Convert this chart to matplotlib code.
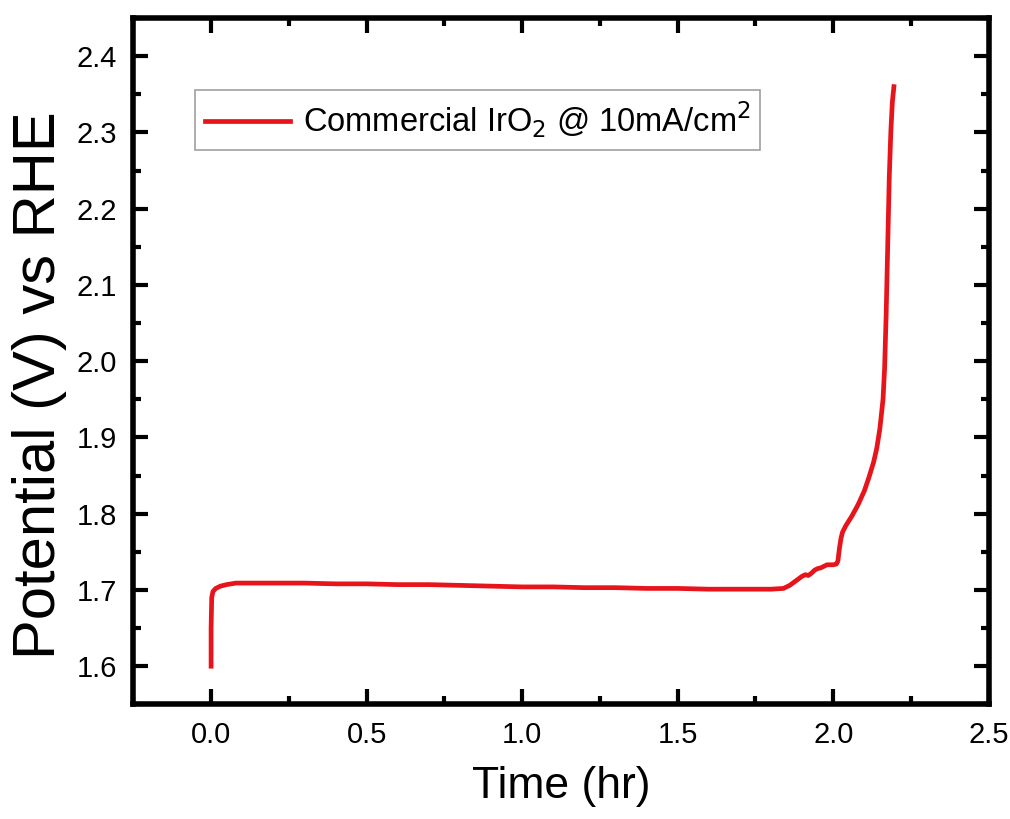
import matplotlib
matplotlib.use('agg')
import matplotlib.pyplot as plt
from matplotlib.ticker import MultipleLocator

plt.rcParams['font.family'] = ['Liberation Sans', 'DejaVu Sans']

# potential vs time
time_hr = [0.0, 0.0, 0.002, 0.006, 0.015, 0.03, 0.05, 0.08, 0.12, 0.2, 0.3,
           0.4, 0.5, 0.6, 0.7, 0.8, 0.9, 1.0, 1.1, 1.2, 1.3, 1.4, 1.5, 1.6,
           1.7, 1.8, 1.84, 1.86, 1.88, 1.9, 1.91, 1.92, 1.93, 1.94, 1.95,
           1.96, 1.97, 1.98, 1.99, 2.0, 2.01, 2.015, 2.02, 2.025, 2.03,
           2.04, 2.06, 2.08, 2.1, 2.115, 2.13, 2.14, 2.15, 2.16, 2.165,
           2.17, 2.175, 2.18, 2.185, 2.19, 2.195]
potential = [1.600, 1.650, 1.690, 1.698, 1.702, 1.705, 1.707, 1.709, 1.709,
             1.709, 1.709, 1.708, 1.708, 1.707, 1.707, 1.706, 1.705, 1.704,
             1.704, 1.703, 1.703, 1.702, 1.702, 1.701, 1.701, 1.701, 1.702,
             1.706, 1.712, 1.718, 1.720, 1.719, 1.722, 1.726, 1.728, 1.729,
             1.731, 1.733, 1.733, 1.733, 1.734, 1.738, 1.755, 1.768, 1.776,
             1.784, 1.797, 1.812, 1.830, 1.848, 1.868, 1.886, 1.912, 1.950,
             1.990, 2.060, 2.150, 2.240, 2.300, 2.340, 2.360]

series_label = r'Commercial IrO$_2$ @ 10mA/cm$^2$'

fig = plt.figure(figsize=(10.10, 8.19), dpi=100)
ax = fig.add_axes([0.132, 0.140, 0.847, 0.838])

ax.plot(time_hr, potential, color='#e8141c', lw=3.4, label=series_label)

ax.set_xlim(-0.25, 2.5)
ax.set_ylim(1.55, 2.45)
ax.xaxis.set_major_locator(MultipleLocator(0.5))
ax.xaxis.set_minor_locator(MultipleLocator(0.25))
ax.yaxis.set_major_locator(MultipleLocator(0.1))
ax.yaxis.set_minor_locator(MultipleLocator(0.05))

ax.tick_params(which='both', direction='in', top=True, right=True,
               width=3, labelsize=21, colors='black')
ax.tick_params(which='major', length=11, pad=12)
ax.tick_params(which='minor', length=6)
for sp in ax.spines.values():
    sp.set_linewidth(4)

ax.set_xlabel('Time (hr)', fontsize=32, labelpad=12)
ax.set_ylabel('Potential (V) vs RHE', fontsize=43)
ax.yaxis.set_label_coords(-0.077, 0.465)

leg = ax.legend(loc='upper left', bbox_to_anchor=(0.072, 0.895), fontsize=23.5,
                frameon=True, fancybox=False, handlelength=2.6,
                handletextpad=0.4, borderpad=0.3, borderaxespad=0)
leg.get_frame().set_edgecolor('#888888')
leg.get_frame().set_linewidth(1.2)

fig.savefig('out.png', dpi=100)
